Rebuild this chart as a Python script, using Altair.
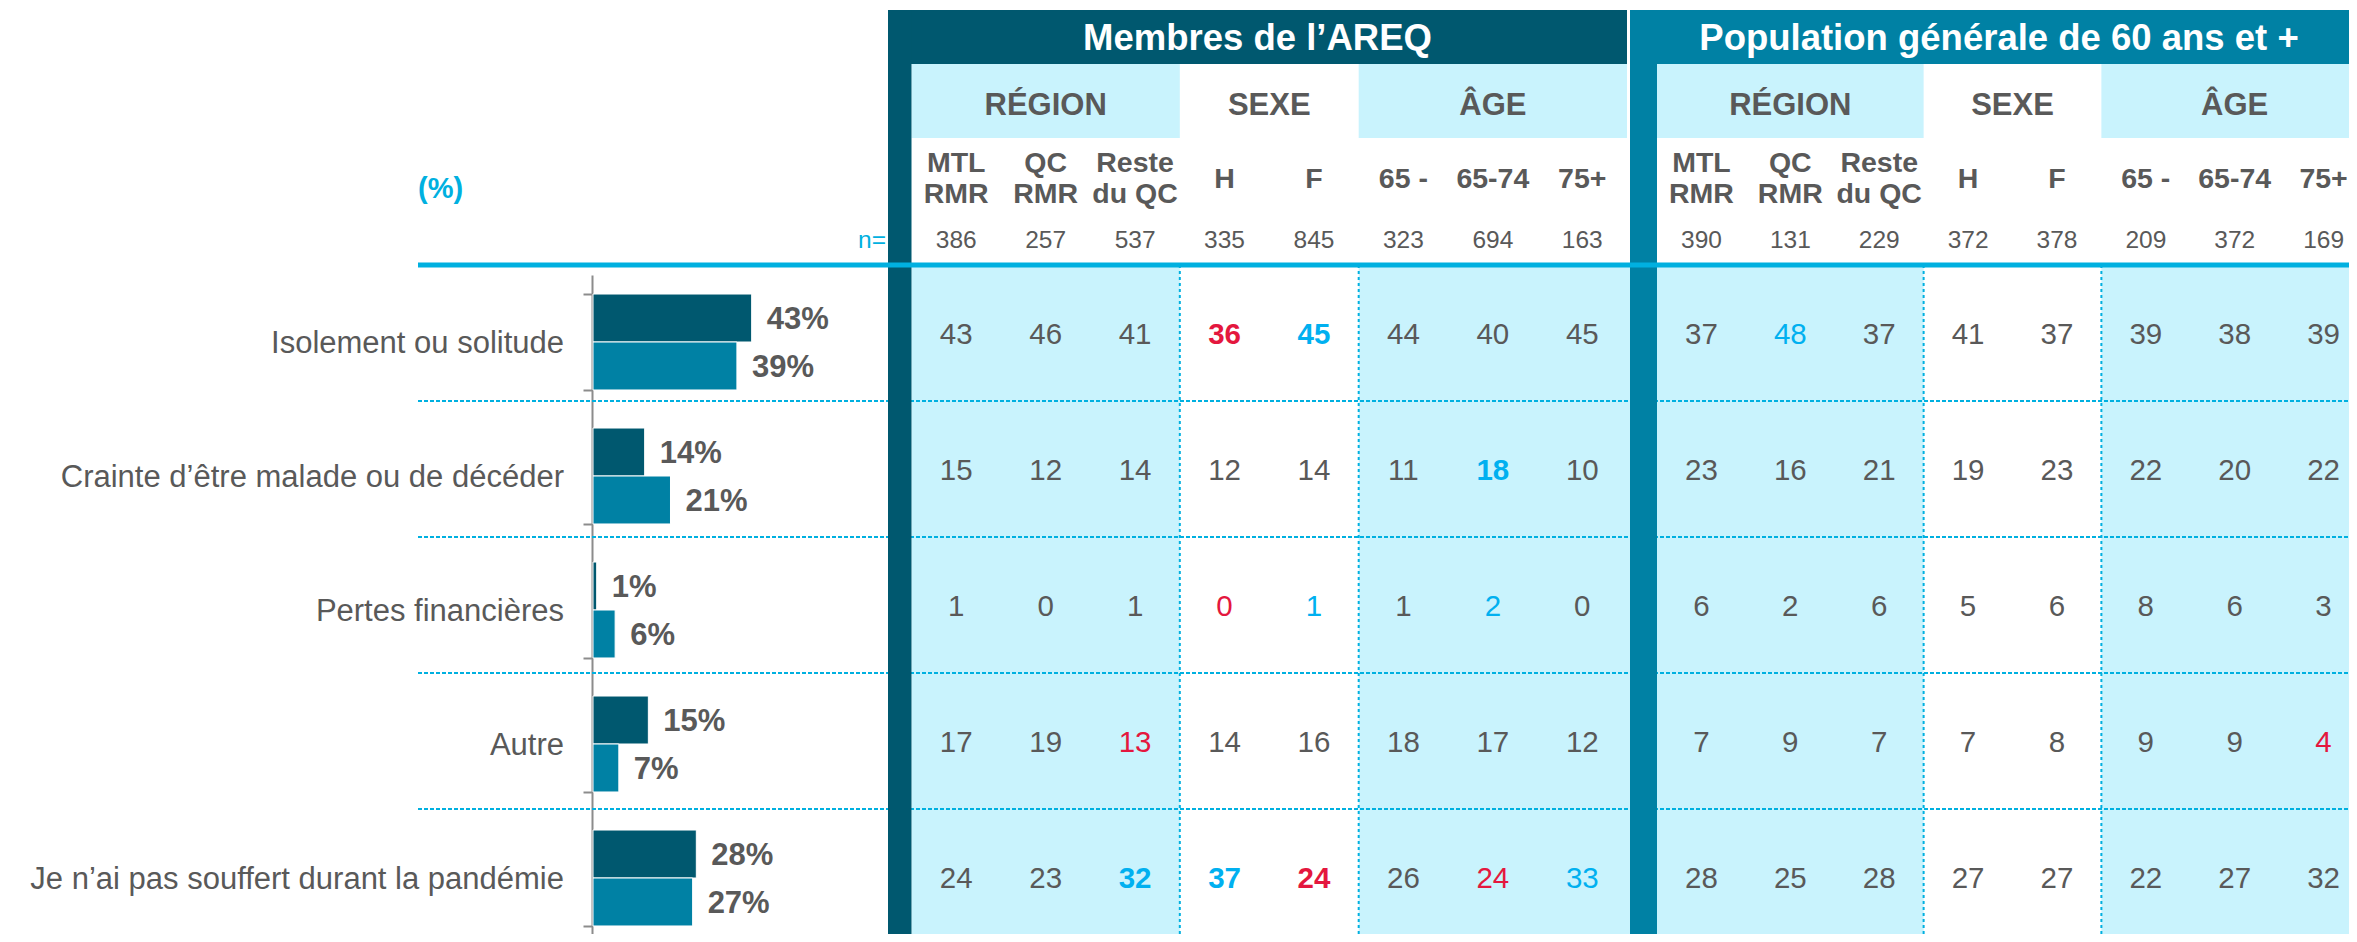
import numpy as np
import pandas as pd
import altair as alt

# ---------------- data ----------------
categories = [
    "Isolement ou solitude",
    "Crainte d’être malade ou de décéder",
    "Pertes financières",
    "Autre",
    "Je n’ai pas souffert durant la pandémie",
]
series = ["Membres de l’AREQ", "Population générale de 60 ans et +"]
total_areq = [43, 14, 1, 15, 28]
total_pop = [39, 21, 6, 7, 27]

groups = ["RÉGION", "SEXE", "ÂGE"]
group_sizes = [3, 2, 3]
col_labels = ["MTL\nRMR", "QC\nRMR", "Reste\ndu QC", "H", "F", "65 -", "65-74", "75+"]
n_areq = [386, 257, 537, 335, 845, 323, 694, 163]
n_pop = [390, 131, 229, 372, 378, 209, 372, 169]

areq_rows = [
    [43, 46, 41, 36, 45, 44, 40, 45],
    [15, 12, 14, 12, 14, 11, 18, 10],
    [1, 0, 1, 0, 1, 1, 2, 0],
    [17, 19, 13, 14, 16, 18, 17, 12],
    [24, 23, 32, 37, 24, 26, 24, 33],
]
pop_rows = [
    [37, 48, 37, 41, 37, 39, 38, 39],
    [23, 16, 21, 19, 23, 22, 20, 22],
    [6, 2, 6, 5, 6, 8, 6, 3],
    [7, 9, 7, 7, 8, 9, 9, 4],
    [28, 25, 28, 27, 27, 22, 27, 32],
]
# significance: 0 none, 1 higher, -1 lower, 2 / -2 strongly (bold)
areq_sig = [
    [0, 0, 0, -2, 2, 0, 0, 0],
    [0, 0, 0, 0, 0, 0, 2, 0],
    [0, 0, 0, -1, 1, 0, 1, 0],
    [0, 0, -1, 0, 0, 0, 0, 0],
    [0, 0, 2, 2, -2, 0, -1, 1],
]
pop_sig = [
    [0, 1, 0, 0, 0, 0, 0, 0],
    [0, 0, 0, 0, 0, 0, 0, 0],
    [0, 0, 0, 0, 0, 0, 0, 0],
    [0, 0, 0, 0, 0, 0, 0, -1],
    [0, 0, 0, 0, 0, 0, 0, 0],
]

# ---------------- style / layout ----------------
FONT = "Liberation Sans"
DARK = "#00586F"
TEAL = "#0081A4"
LIGHT = "#C9F3FD"
CYAN = "#00B0E0"
RED = "#E4173E"
BLUE = "#00B0F0"
GRAY = "#595959"
AXISC = "#8C8C8C"
SIG_COLOR = {0: GRAY, 1: BLUE, 2: BLUE, -1: RED, -2: RED}
DY = 2  # small baseline correction for text

M = 8
W, H = 2341, 926

# table layout scale (piecewise): stub, block bars, block interiors
X_DOM = [-10, -1, -0.5, 7.5, 8, 8.5, 16.5]
X_PIX = [418, 888, 911.5, 1627, 1630, 1657, 2368]
Y_DOM = [0, 1, 2, 3, 4, 5, 10]
Y_PIX = [10, 64, 138, 216, 262, 265, 945]

xs = alt.Scale(type="linear", domain=X_DOM, range=[p - M for p in X_PIX], nice=False, zero=False)
ys = alt.Scale(type="linear", domain=Y_DOM, range=[p - M for p in Y_PIX], nice=False, zero=False)


def TX(f):
    return alt.X(f, scale=xs, axis=None)


def TY(f):
    return alt.Y(f, scale=ys, axis=None)


# bar chart scales
bx = alt.Scale(domain=[0, 100], range=[593 - M, 962 - M], nice=False)
by = alt.Scale(domain=categories, range=[275 - M, 945 - M], paddingInner=0.284, paddingOuter=0.142)

# ---------------- build tables ----------------
block_cols = [DARK, TEAL]
light_bg, dark_bg, vlines, grp_lab, titles = [], [], [], [], []
starts = list(np.cumsum([0] + group_sizes[:-1]))
for b in range(2):
    off = 9 * b
    dark_bg.append(dict(u0=off - 1, u1=off + 7.5, v0=0, v1=1, color=block_cols[b]))
    dark_bg.append(dict(u0=off - 1, u1=off - 0.5, v0=0, v1=10, color=block_cols[b]))
    left_px = np.interp(off - 1, X_DOM, X_PIX)
    right_px = np.interp(off + 7.5, X_DOM, X_PIX)
    titles.append(dict(u=float(np.interp((left_px + right_px) / 2, X_PIX, X_DOM)), v=0.5, text=series[b]))
    for g, (name, st, sz) in enumerate(zip(groups, starts, group_sizes)):
        u0 = off + st - 0.5
        u1 = off + st + sz - 0.5
        grp_lab.append(dict(u=(u0 + u1) / 2, v=1.5, text=name))
        if g % 2 == 0:
            light_bg.append(dict(u0=u0, u1=u1, v0=1, v1=2, color=LIGHT))
            u1d = off + 8 if (g == len(groups) - 1 and b == 0) else u1
            light_bg.append(dict(u0=u0, u1=u1d, v0=5, v1=10, color=LIGHT))
        if st > 0:
            vlines.append(dict(u=u0, v0=5, v1=10))

light_df = pd.DataFrame(light_bg)
dark_df = pd.DataFrame(dark_bg)
vline_df = pd.DataFrame(vlines)
grp_df = pd.DataFrame(grp_lab)
title_df = pd.DataFrame(titles)
hline_df = pd.DataFrame([dict(u0=-10, u1=16.5, v=5 + k) for k in range(1, 5)])
thick_df = pd.DataFrame([dict(u0=-10, u1=16.5, v=5)])

cols = []
cells = []
for b, (ns, vals, sigs) in enumerate([(n_areq, areq_rows, areq_sig), (n_pop, pop_rows, pop_sig)]):
    for c in range(8):
        cols.append(dict(u=9 * b + c, text=col_labels[c], n=str(ns[c]),
                         lines=col_labels[c].count("\n") + 1))
        for r in range(len(categories)):
            s = sigs[r][c]
            cells.append(dict(u=9 * b + c, v=5.5 + r, text=str(vals[r][c]),
                              color=SIG_COLOR[s], bold=abs(s) == 2))
col_df = pd.DataFrame(cols)
col_df["v_lab"] = 2.5
col_df["v_n"] = 3.5
cell_df = pd.DataFrame(cells)
stub_df = pd.DataFrame([dict(u=-10, v=2.5, text="(%)"), dict(u=-1, v=3.5, text="n=")])

bars = []
for s, vals, colr in [(series[0], total_areq, DARK), (series[1], total_pop, TEAL)]:
    for cat, v in zip(categories, vals):
        bars.append(dict(category=cat, series=s, value=v, color=colr, label=f"{v}%"))
bar_df = pd.DataFrame(bars)
cat_df = pd.DataFrame(dict(category=categories))

# ---------------- layers ----------------
light_l = alt.Chart(light_df).mark_rect().encode(
    x=TX("u0:Q"), x2="u1:Q", y=TY("v0:Q"), y2="v1:Q", color=alt.Color("color:N", scale=None))
vline_l = alt.Chart(vline_df).mark_rule(color=CYAN, strokeWidth=2, strokeDash=[3, 3]).encode(
    x=TX("u:Q"), y=TY("v0:Q"), y2="v1:Q")
hline_l = alt.Chart(hline_df).mark_rule(color=CYAN, strokeWidth=2, strokeDash=[4, 2]).encode(
    x=TX("u0:Q"), x2="u1:Q", y=TY("v:Q"))
dark_l = alt.Chart(dark_df).mark_rect().encode(
    x=TX("u0:Q"), x2="u1:Q", y=TY("v0:Q"), y2="v1:Q", color=alt.Color("color:N", scale=None))
thick_l = alt.Chart(thick_df).mark_rule(color=CYAN, strokeWidth=5).encode(
    x=TX("u0:Q"), x2="u1:Q", y=TY("v:Q"))

title_l = alt.Chart(title_df).mark_text(font=FONT, fontSize=36.5, fontWeight="bold", color="white",
                                        align="center", baseline="middle", dy=DY).encode(
    x=TX("u:Q"), y=TY("v:Q"), text="text:N")
grp_l = alt.Chart(grp_df).mark_text(font=FONT, fontSize=31, fontWeight="bold", color=GRAY,
                                    align="center", baseline="middle", dy=5).encode(
    x=TX("u:Q"), y=TY("v:Q"), text="text:N")
collab1_l = alt.Chart(col_df).transform_filter(alt.datum.lines == 1).mark_text(
    font=FONT, fontSize=28.5, fontWeight="bold", color=GRAY,
    align="center", baseline="middle", dy=DY).encode(
    x=TX("u:Q"), y=TY("v_lab:Q"), text="text:N")
collab2_l = alt.Chart(col_df).transform_filter(alt.datum.lines == 2).mark_text(
    font=FONT, fontSize=28.5, fontWeight="bold", color=GRAY,
    align="center", baseline="middle", lineBreak="\n", lineHeight=31, dy=DY - 16).encode(
    x=TX("u:Q"), y=TY("v_lab:Q"), text="text:N")
n_l = alt.Chart(col_df).mark_text(font=FONT, fontSize=24.5, color=GRAY,
                                  align="center", baseline="middle", dy=DY).encode(
    x=TX("u:Q"), y=TY("v_n:Q"), text="n:N")
pct_l = alt.Chart(stub_df).transform_filter(alt.datum.text == "(%)").mark_text(
    font=FONT, fontSize=29, fontWeight="bold", color=CYAN, align="left", baseline="middle",
    dy=10 + DY).encode(
    x=TX("u:Q"), y=TY("v:Q"), text="text:N")
neq_l = alt.Chart(stub_df).transform_filter(alt.datum.text == "n=").mark_text(
    font=FONT, fontSize=24.5, color=CYAN, align="right", baseline="middle", dx=-2, dy=DY).encode(
    x=TX("u:Q"), y=TY("v:Q"), text="text:N")

cell_reg = alt.Chart(cell_df).transform_filter(alt.datum.bold == False).mark_text(
    font=FONT, fontSize=29.5, align="center", baseline="middle", dy=DY).encode(
    x=TX("u:Q"), y=TY("v:Q"), text="text:N", color=alt.Color("color:N", scale=None))
cell_bold = alt.Chart(cell_df).transform_filter(alt.datum.bold == True).mark_text(
    font=FONT, fontSize=29.5, fontWeight="bold", align="center", baseline="middle", dy=DY).encode(
    x=TX("u:Q"), y=TY("v:Q"), text="text:N", color=alt.Color("color:N", scale=None))

yoff = alt.YOffset("series:N", scale=alt.Scale(domain=series, paddingInner=0, paddingOuter=0))
bar_axis = alt.Axis(orient="left", offset=-(592 - M), labels=False, title=None, grid=False,
                    ticks=True, tickBand="extent", tickSize=9, tickWidth=2, tickColor=AXISC,
                    domain=True, domainColor=AXISC, domainWidth=2)
bar_l = alt.Chart(bar_df).mark_bar(stroke="white", strokeWidth=1).encode(
    x=alt.X("value:Q", scale=bx, axis=None),
    y=alt.Y("category:N", scale=by, axis=bar_axis),
    yOffset=yoff,
    color=alt.Color("color:N", scale=None),
)
barlab_l = alt.Chart(bar_df).mark_text(font=FONT, fontSize=31, fontWeight="bold", color=GRAY,
                                       align="left", baseline="middle", dx=15, dy=DY).encode(
    x=alt.X("value:Q", scale=bx, axis=None),
    y=alt.Y("category:N", scale=by, axis=None),
    yOffset=yoff,
    text="label:N",
)
cat_l = alt.Chart(cat_df).mark_text(font=FONT, fontSize=31, color=GRAY, align="right",
                                    baseline="middle", dx=-29, dy=DY).encode(
    x=alt.XDatum(0, scale=bx, axis=None),
    y=alt.Y("category:N", scale=by, axis=None),
    text="category:N",
)

chart = alt.layer(
    light_l, vline_l, hline_l, dark_l, thick_l,
    title_l, grp_l, collab1_l, collab2_l, n_l, pct_l, neq_l,
    cell_reg, cell_bold,
    bar_l, barlab_l, cat_l,
).resolve_scale(
    x="independent", y="independent"
).properties(
    width=W, height=H, padding=0, autosize=alt.AutoSizeParams(type="none")
).configure_view(stroke=None)

chart.save("out.html", embed_options={"renderer": "svg", "actions": False})
